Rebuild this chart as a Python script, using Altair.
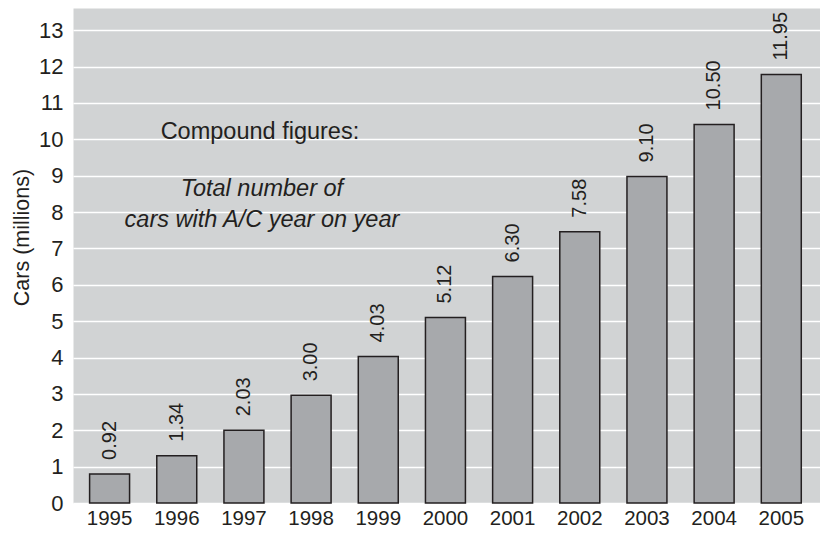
import altair as alt
import pandas as pd

years = ["1995", "1996", "1997", "1998", "1999", "2000", "2001", "2002", "2003", "2004", "2005"]
bar_heights = [0.80, 1.30, 2.00, 2.96, 4.03, 5.10, 6.23, 7.46, 8.98, 10.41, 11.78]
bar_labels = ["0.92", "1.34", "2.03", "3.00", "4.03", "5.12", "6.30", "7.58", "9.10", "10.50", "11.95"]
y_ticks = list(range(0, 14))

note_head = ["Compound figures:"]
note_head_y = [10.0]
note_body = ["Total number of", "cars with A/C year on year"]
note_body_y = [8.43, 7.60]

FONT = "Liberation Sans"
TXT = "#231f20"

df = pd.DataFrame({"year": years, "cars": bar_heights, "label": bar_labels})
head = pd.DataFrame({"year": ["1997"] * len(note_head), "cars": note_head_y, "text": note_head})
body = pd.DataFrame({"year": ["1997"] * len(note_body), "cars": note_body_y, "text": note_body})

x_enc = alt.X(
    "year:N",
    sort=years,
    scale=alt.Scale(paddingInner=0.405, paddingOuter=0.263, align=0.47),
    axis=alt.Axis(title=None, labelAngle=0, ticks=False, domain=False,
                  labelFontSize=20.5, labelPadding=5, labelColor=TXT, labelFont=FONT,
                  grid=False),
)
y_enc = alt.Y(
    "cars:Q",
    scale=alt.Scale(domain=[0, 13.61], nice=False, zero=True),
    axis=alt.Axis(title="Cars (millions)", values=y_ticks, ticks=False, domain=False,
                  labelOverlap=False,
                  gridColor="white", gridWidth=1.5, gridOpacity=1,
                  labelFontSize=22, labelPadding=10, labelColor=TXT, labelFont=FONT,
                  titleFontSize=21.5, titleFontWeight="normal", titleColor=TXT,
                  titleFont=FONT, titlePadding=5, titleY=229),
)

bars = alt.Chart(df).mark_bar(color="#a7a9ac", stroke=TXT, strokeWidth=1.5).encode(
    x=x_enc, y=y_enc
)

labels = alt.Chart(df).mark_text(
    angle=270, align="left", baseline="middle", dx=14, fontSize=20, font=FONT, color=TXT
).encode(x=x_enc, y=y_enc, text="label:N")

head_text = alt.Chart(head).mark_text(
    align="center", baseline="alphabetic", dx=16, fontSize=23.5, font=FONT, color=TXT
).encode(x=x_enc, y=y_enc, text="text:N")

body_text = alt.Chart(body).mark_text(
    align="center", baseline="alphabetic", dx=18, fontSize=23.5, font=FONT, color=TXT,
    fontStyle="italic"
).encode(x=x_enc, y=y_enc, text="text:N")

chart = alt.layer(bars, labels, head_text, body_text).properties(
    width=747, height=495,
    autosize=alt.AutoSizeParams(type="none"),
    padding={"left": 65, "top": 0, "right": 0, "bottom": 26},
    background="white",
).configure_view(fill="#d1d3d4", stroke="transparent")

chart.save("out.html", embed_options={"renderer": "svg", "actions": False})
